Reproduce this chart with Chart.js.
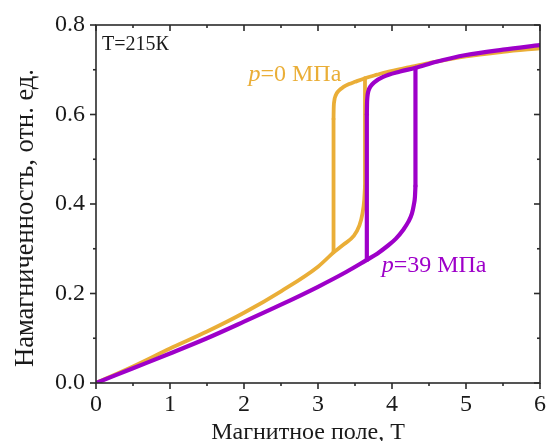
<!DOCTYPE html>
<html>
<head>
<meta charset="utf-8">
<script src="https://cdn.jsdelivr.net/npm/chart.js@4.4.0/dist/chart.umd.min.js"></script>
<style>
  html, body { margin: 0; padding: 0; background: #fff; }
  #wrap { width: 547px; height: 441px; }
</style>
</head>
<body>
<div id="wrap"><canvas id="c" width="547" height="441"></canvas></div>
<script>
// tick labels
const xTickLabels = ['0', '1', '2', '3', '4', '5', '6'];
const yTickLabels = ['0.0', '0.2', '0.4', '0.6', '0.8'];

// p = 0 MPa
const p0LowX = [0, 0.5, 1, 1.5, 2, 2.5, 3, 3.21];
const p0LowY = [0, 0.037, 0.077, 0.115, 0.157, 0.205, 0.26, 0.292];
const p0DropX = [3.21, 3.21];
const p0DropY = [0.292, 0.59];
const p0UpX = [3.21, 3.212, 3.22, 3.24, 3.28, 3.34, 3.42, 3.5, 3.635, 3.8, 3.93, 4.24, 4.5, 5, 5.5, 6];
const p0UpY = [0.59, 0.612, 0.63, 0.643, 0.653, 0.661, 0.668, 0.673, 0.681, 0.689, 0.695, 0.706, 0.715, 0.73, 0.74, 0.748];
const p0RiseX = [3.21, 3.35, 3.48, 3.56, 3.6, 3.625, 3.635];
const p0RiseY = [0.292, 0.31, 0.328, 0.352, 0.378, 0.41, 0.44];
const p0JumpX = [3.635, 3.635];
const p0JumpY = [0.44, 0.681];

// p = 39 MPa
const p39LowX = [0, 0.5, 1, 1.5, 2, 2.5, 3, 3.38, 3.66];
const p39LowY = [0, 0.033, 0.066, 0.10, 0.137, 0.175, 0.215, 0.248, 0.275];
const p39DropX = [3.66, 3.66];
const p39DropY = [0.275, 0.6];
const p39UpX = [3.66, 3.662, 3.668, 3.68, 3.71, 3.76, 3.88, 4.11, 4.31, 4.6, 5, 5.5, 6];
const p39UpY = [0.6, 0.622, 0.64, 0.652, 0.663, 0.672, 0.684, 0.696, 0.704, 0.718, 0.733, 0.745, 0.755];
const p39RiseX = [3.66, 3.8, 3.93, 4.05, 4.15, 4.22, 4.27, 4.295, 4.31, 4.317];
const p39RiseY = [0.275, 0.289, 0.305, 0.322, 0.342, 0.36, 0.379, 0.398, 0.416, 0.44];
const p39JumpX = [4.317, 4.317];
const p39JumpY = [0.44, 0.704];

const ORANGE = '#EAAE37';
const PURPLE = '#9E00C9';
const SERIF = '"Liberation Serif", "Times New Roman", serif';

const pts = (xs, ys) => xs.map((v, i) => ({ x: v, y: ys[i] }));

function line(ctx, x1, y1, x2, y2) {
  ctx.beginPath(); ctx.moveTo(x1, y1); ctx.lineTo(x2, y2); ctx.stroke();
}

const framePlugin = {
  id: 'frame',
  afterDraw(chart) {
    const { ctx, chartArea: a } = chart;
    const xs = chart.scales.x, ys = chart.scales.y;
    ctx.save();
    ctx.strokeStyle = '#2b2b2b';
    ctx.lineWidth = 1.6;
    ctx.strokeRect(a.left, a.top, a.right - a.left, a.bottom - a.top);

    // x ticks: outward at bottom, inward at top
    for (let i = 0; i <= 12; i++) {
      const px = xs.getPixelForValue(i * 0.5);
      const len = i % 2 === 0 ? 6 : 3;
      line(ctx, px, a.bottom, px, a.bottom + len);
      line(ctx, px, a.top, px, a.top + len);
    }
    // y ticks: outward at left, inward at right
    for (let i = 0; i <= 8; i++) {
      const py = ys.getPixelForValue(i * 0.1);
      const len = i % 2 === 0 ? 6 : 3;
      line(ctx, a.left - len, py, a.left, py);
      line(ctx, a.right - len, py, a.right, py);
    }

    // axis titles
    ctx.fillStyle = '#1a1a1a';
    ctx.textAlign = 'center';
    ctx.textBaseline = 'alphabetic';
    ctx.font = '24px ' + SERIF;
    ctx.fillText('Магнитное поле, Т', 308, 439);
    ctx.save();
    ctx.translate(33, 218);
    ctx.rotate(-Math.PI / 2);
    ctx.font = '26.5px ' + SERIF;
    ctx.fillText('Намагниченность, отн. ед.', 0, 0);
    ctx.restore();

    // labels inside the plot
    ctx.textAlign = 'left';
    ctx.font = '20px ' + SERIF;
    ctx.fillText('T=215К', a.left + 6, a.top + 25);

    const label = (x, y, rest, color) => {
      ctx.fillStyle = color;
      ctx.font = 'italic 24px ' + SERIF;
      ctx.fillText('p', x, y);
      const w = ctx.measureText('p').width;
      ctx.font = '24px ' + SERIF;
      ctx.fillText(rest, x + w, y);
    };
    label(xs.getPixelForValue(2.06), ys.getPixelForValue(0.675), '=0 МПа', ORANGE);
    label(xs.getPixelForValue(3.86), ys.getPixelForValue(0.248), '=39 МПа', PURPLE);
    ctx.restore();
  }
};

const curve = (data, color, width) => ({
  data, borderColor: color, borderWidth: width, showLine: true,
  pointRadius: 0, cubicInterpolationMode: 'monotone', fill: false,
  borderJoinStyle: 'round', borderCapStyle: 'round'
});
const straight = (data, color, width) => ({
  data, borderColor: color, borderWidth: width, showLine: true,
  pointRadius: 0, tension: 0, fill: false, borderCapStyle: 'round'
});

const OW = 3.8, PW = 4.2;

new Chart(document.getElementById('c'), {
  type: 'scatter',
  data: {
    datasets: [
      curve(pts(p39LowX, p39LowY), PURPLE, PW),
      straight(pts(p39DropX, p39DropY), PURPLE, PW),
      curve(pts(p39UpX, p39UpY), PURPLE, PW),
      curve(pts(p39RiseX, p39RiseY), PURPLE, PW),
      straight(pts(p39JumpX, p39JumpY), PURPLE, PW),
      curve(pts(p0LowX, p0LowY), ORANGE, OW),
      straight(pts(p0DropX, p0DropY), ORANGE, OW),
      curve(pts(p0UpX, p0UpY), ORANGE, OW),
      curve(pts(p0RiseX, p0RiseY), ORANGE, OW),
      straight(pts(p0JumpX, p0JumpY), ORANGE, OW)
    ]
  },
  options: {
    responsive: false,
    animation: false,
    devicePixelRatio: 1,
    layout: { padding: { top: 25, right: 7, left: 0, bottom: 0 } },
    plugins: { legend: { display: false }, tooltip: { enabled: false } },
    scales: {
      x: {
        type: 'linear', min: 0, max: 6,
        afterFit: (s) => { s.height = 58; },
        grid: { display: false, drawTicks: true, tickLength: 6 },
        border: { display: false },
        ticks: {
          stepSize: 1, padding: 1, color: '#1a1a1a', maxRotation: 0,
          font: { family: SERIF, size: 24 },
          callback: (v) => xTickLabels[Math.round(v)]
        }
      },
      y: {
        type: 'linear', min: 0, max: 0.8,
        afterFit: (s) => { s.width = 96; },
        grid: { display: false, drawTicks: true, tickLength: 6 },
        border: { display: false },
        ticks: {
          stepSize: 0.2, padding: 5, color: '#1a1a1a',
          font: { family: SERIF, size: 24 },
          callback: (v) => yTickLabels[Math.round(v / 0.2)]
        }
      }
    }
  },
  plugins: [framePlugin]
});
</script>
</body>
</html>
